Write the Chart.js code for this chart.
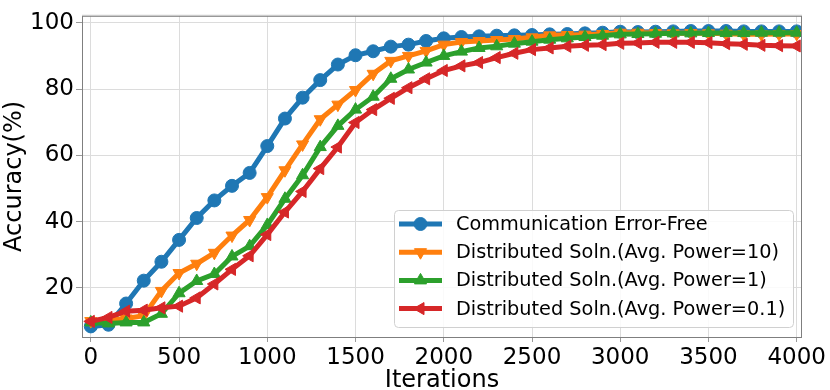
<!DOCTYPE html>
<html>
<head>
<meta charset="utf-8">
<script src="https://cdn.jsdelivr.net/npm/chart.js@4"></script>
<style>
  html, body { margin: 0; padding: 0; background: #fff; }
  #wrap { width: 830px; height: 390px; }
</style>
</head>
<body>
<div id="wrap"><canvas id="chart" width="830" height="390"></canvas></div>
<script>
// iterations (every 100) and accuracy (%) per curve
const iterations = [0, 100, 200, 300, 400, 500, 600, 700, 800, 900, 1000, 1100, 1200, 1300, 1400, 1500, 1600, 1700, 1800, 1900, 2000,
  2100, 2200, 2300, 2400, 2500, 2600, 2700, 2800, 2900, 3000, 3100, 3200, 3300, 3400, 3500, 3600, 3700, 3800, 3900, 4000];

const errorFree = [8.4, 8.9, 15.3, 22.2, 27.9, 34.5, 41.1, 46.4, 50.8, 54.7, 62.8, 71.1, 77.4, 82.7, 87.4, 90.2, 91.4, 92.8, 93.4, 94.5, 95.3,
  95.7, 95.9, 96.1, 96.2, 96.3, 96.5, 96.6, 96.8, 97.0, 97.3, 97.2, 97.3, 97.4, 97.5, 97.5, 97.5, 97.4, 97.4, 97.4, 97.4];
const power10 = [10.0, 10.3, 10.8, 11.6, 19.1, 24.5, 27.3, 30.6, 35.8, 40.5, 47.4, 55.5, 63.3, 70.9, 75.3, 79.7, 84.6, 88.5, 90.0, 91.5, 93.4,
  94.2, 94.5, 94.8, 95.1, 95.6, 96.2, 96.3, 96.4, 96.6, 97.0, 97.0, 96.9, 96.8, 96.9, 96.8, 96.7, 96.5, 96.5, 96.6, 96.6];
const power1 = [9.6, 9.3, 9.6, 9.6, 12.2, 18.4, 22.1, 24.2, 29.5, 32.6, 39.0, 46.9, 54.0, 62.5, 68.9, 73.8, 77.7, 83.1, 85.9, 88.0, 90.0,
  91.3, 92.4, 92.9, 93.7, 94.3, 94.9, 95.3, 95.7, 96.1, 96.5, 96.6, 96.7, 96.8, 96.8, 96.9, 96.9, 96.9, 97.0, 97.0, 97.0];
const power01 = [9.9, 11.1, 13.0, 13.3, 14.0, 14.5, 17.0, 21.2, 25.6, 29.7, 36.1, 42.9, 49.1, 56.0, 62.5, 69.9, 73.8, 77.2, 80.4, 83.1, 85.6,
  87.0, 88.0, 89.5, 90.8, 91.9, 92.4, 92.9, 93.2, 93.4, 93.8, 93.9, 94.1, 94.1, 94.1, 94.0, 93.7, 93.5, 93.2, 93.1, 93.0];

const seriesLabels = [
  'Communication Error-Free',
  'Distributed Soln.(Avg. Power=10)',
  'Distributed Soln.(Avg. Power=1)',
  'Distributed Soln.(Avg. Power=0.1)',
];
const xTicks = [0, 500, 1000, 1500, 2000, 2500, 3000, 3500, 4000];
const yTicks = [20, 40, 60, 80, 100];

const colors = ['#1f77b4', '#ff7f0e', '#2ca02c', '#d62728'];
const markers = [
  { style: 'circle', rot: 0, r: 6.5 },
  { style: 'triangle', rot: 180, r: 7 },
  { style: 'triangle', rot: 0, r: 7 },
  { style: 'triangle', rot: -90, r: 7 },
];

const DEJAVU = "'DejaVu Sans', sans-serif";

const toPts = (vals) => iterations.map((x, i) => ({ x, y: vals[i] }));

const datasets = [errorFree, power10, power1, power01].map((vals, i) => ({
  label: seriesLabels[i],
  data: toPts(vals),
  borderColor: colors[i],
  backgroundColor: colors[i],
  borderWidth: 5,
  pointStyle: markers[i].style,
  pointRotation: markers[i].rot,
  pointRadius: markers[i].r,
  pointBorderWidth: 1,
  tension: 0,
  order: 3 - i,
}));

// axes frame (matplotlib-style box)
const frame = {
  id: 'frame',
  afterDatasetsDraw(chart) {
    const { ctx, chartArea: a } = chart;
    ctx.save();
    ctx.strokeStyle = '#7f7f7f';
    ctx.lineWidth = 1;
    ctx.strokeRect(a.left + 0.5, a.top + 0.5, a.right - a.left - 1, a.bottom - a.top);
    ctx.strokeStyle = '#c4c4c4';
    ctx.beginPath();
    ctx.moveTo(a.left, a.top - 0.5);
    ctx.lineTo(a.right, a.top - 0.5);
    ctx.stroke();
    ctx.restore();
  },
};

// legend box in lower right, line + marker + label
const boxLegend = {
  id: 'boxLegend',
  afterDraw(chart) {
    const { ctx } = chart;
    const x0 = 394, y0 = 210, w = 399, h = 117;
    ctx.save();
    ctx.fillStyle = 'rgba(255,255,255,0.85)';
    ctx.strokeStyle = '#d0d0d0';
    ctx.lineWidth = 1;
    ctx.beginPath();
    ctx.roundRect(x0 + 0.5, y0 + 0.5, w, h, 4);
    ctx.fill();
    ctx.stroke();
    ctx.font = '19.3px ' + DEJAVU;
    ctx.textBaseline = 'middle';
    chart.data.datasets.forEach((ds, i) => {
      const y = 224 + i * 28.2;
      ctx.strokeStyle = ds.borderColor;
      ctx.lineWidth = 5;
      ctx.beginPath();
      ctx.moveTo(399, y);
      ctx.lineTo(442, y);
      ctx.stroke();
      ctx.fillStyle = ds.backgroundColor;
      ctx.lineWidth = 1;
      Chart.helpers.drawPoint(ctx, { pointStyle: ds.pointStyle, rotation: ds.pointRotation, radius: ds.pointRadius, borderWidth: 1 }, 420.5, y);
      ctx.fillStyle = '#000';
      ctx.fillText(ds.label, 456, y + 1);
    });
    ctx.restore();
  },
};

new Chart(document.getElementById('chart'), {
  type: 'line',
  data: { datasets },
  options: {
    responsive: false,
    animation: false,
    devicePixelRatio: 1,
    layout: { padding: { left: 0, top: 7, right: 28, bottom: 0 } },
    plugins: { legend: { display: false }, tooltip: { enabled: false } },
    scales: {
      x: {
        type: 'linear',
        min: -50,
        max: 4030,
        afterBuildTicks: (s) => { s.ticks = xTicks.map((v) => ({ value: v })); },
        afterFit: (s) => { s.height = 53; },
        grid: { color: '#dcdcdc', lineWidth: 1, tickLength: 5, tickColor: '#9a9a9a' },
        border: { display: false },
        ticks: { color: '#000', padding: 2, maxRotation: 0, callback: (v) => String(v), font: { family: DEJAVU, size: 23 } },
        title: { display: true, text: 'Iterations', color: '#000', padding: { top: 0, bottom: 0 }, font: { family: DEJAVU, size: 24, lineHeight: 0.8 } },
      },
      y: {
        min: 5.2,
        max: 102.1,
        afterBuildTicks: (s) => { s.ticks = yTicks.map((v) => ({ value: v })); },
        afterFit: (s) => { s.width = 82; },
        grid: { color: '#dcdcdc', lineWidth: 1, tickLength: 6, tickColor: '#9a9a9a' },
        border: { display: false },
        ticks: { color: '#000', padding: 2, callback: (v) => String(v), font: { family: DEJAVU, size: 23 } },
        title: { display: true, text: 'Accuracy(%)', color: '#000', padding: { top: 0, bottom: 0 }, font: { family: DEJAVU, size: 24 } },
      },
    },
  },
  plugins: [frame, boxLegend],
});
</script>
</body>
</html>
